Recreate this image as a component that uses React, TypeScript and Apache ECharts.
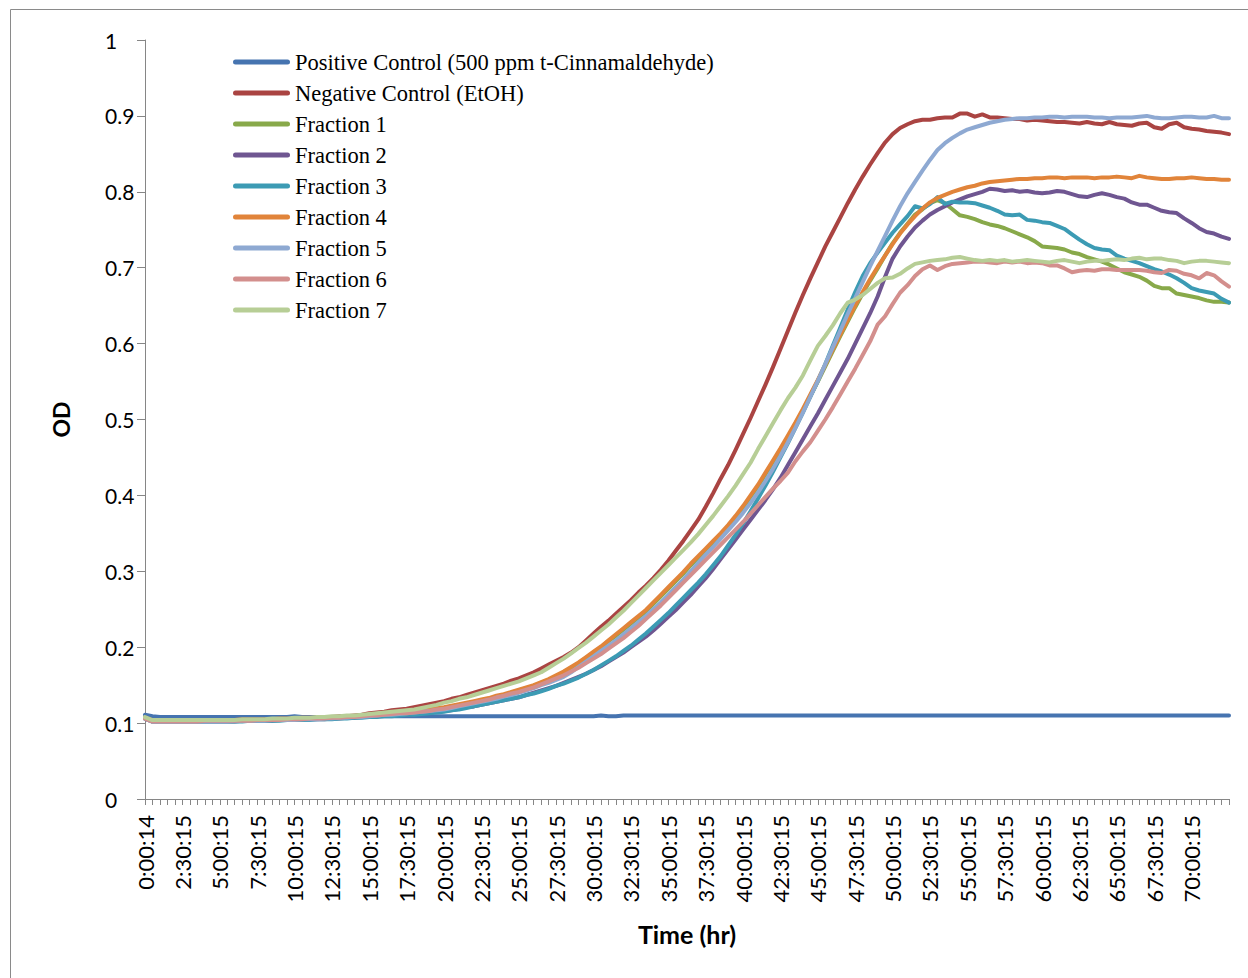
import React, { useEffect, useRef } from "react";
import * as echarts from "echarts";

// Time points every 30 min (first reading at 0:00:14)
const categories: string[] = Array.from({ length: 146 }, (_, i) =>
  i === 0 ? "0:00:14" : `${Math.floor(i / 2)}:${i % 2 ? "30" : "00"}:15`
);

const yTicks = [0, 0.1, 0.2, 0.3, 0.4, 0.5, 0.6, 0.7, 0.8, 0.9, 1];

const positiveControl = [
  0.111, 0.109, 0.108, 0.108, 0.108, 0.108, 0.108, 0.108, 0.108, 0.108,
  0.108, 0.108, 0.108, 0.108, 0.108, 0.108, 0.108, 0.108, 0.108, 0.108,
  0.109, 0.108, 0.108, 0.108, 0.108, 0.108, 0.108, 0.108, 0.109, 0.109,
  0.109, 0.109, 0.109, 0.109, 0.109, 0.109, 0.109, 0.109, 0.109, 0.109,
  0.109, 0.109, 0.109, 0.109, 0.109, 0.109, 0.109, 0.109, 0.109, 0.109,
  0.109, 0.109, 0.109, 0.109, 0.109, 0.109, 0.109, 0.109, 0.109, 0.109,
  0.109, 0.110, 0.109, 0.109, 0.110, 0.110, 0.110, 0.110, 0.110, 0.110,
  0.110, 0.110, 0.110, 0.110, 0.110, 0.110, 0.110, 0.110, 0.110, 0.110,
  0.110, 0.110, 0.110, 0.110, 0.110, 0.110, 0.110, 0.110, 0.110, 0.110,
  0.110, 0.110, 0.110, 0.110, 0.110, 0.110, 0.110, 0.110, 0.110, 0.110,
  0.110, 0.110, 0.110, 0.110, 0.110, 0.110, 0.110, 0.110, 0.110, 0.110,
  0.110, 0.110, 0.110, 0.110, 0.110, 0.110, 0.110, 0.110, 0.110, 0.110,
  0.110, 0.110, 0.110, 0.110, 0.110, 0.110, 0.110, 0.110, 0.110, 0.110,
  0.110, 0.110, 0.110, 0.110, 0.110, 0.110, 0.110, 0.110, 0.110, 0.110,
  0.110, 0.110, 0.110, 0.110, 0.110, 0.110,
];

const negativeControl = [
  0.107, 0.104, 0.104, 0.104, 0.104, 0.104, 0.104, 0.104, 0.104, 0.104,
  0.104, 0.104, 0.104, 0.105, 0.105, 0.105, 0.105, 0.105, 0.106, 0.106,
  0.106, 0.107, 0.107, 0.107, 0.108, 0.108, 0.109, 0.109, 0.110, 0.111,
  0.113, 0.114, 0.115, 0.117, 0.118, 0.119, 0.121, 0.123, 0.125, 0.127,
  0.129, 0.132, 0.134, 0.137, 0.140, 0.143, 0.146, 0.149, 0.152, 0.156,
  0.159, 0.163, 0.167, 0.172, 0.177, 0.182, 0.187, 0.193, 0.200, 0.209,
  0.218, 0.227, 0.235, 0.244, 0.253, 0.262, 0.272, 0.281, 0.291, 0.302,
  0.314, 0.327, 0.340, 0.354, 0.368, 0.385, 0.403, 0.422, 0.440, 0.460,
  0.481, 0.502, 0.524, 0.546, 0.569, 0.593, 0.617, 0.641, 0.664, 0.686,
  0.707, 0.728, 0.747, 0.766, 0.785, 0.803, 0.820, 0.836, 0.851, 0.865,
  0.876, 0.884, 0.889, 0.893, 0.895, 0.895, 0.897, 0.898, 0.898, 0.903,
  0.903, 0.899, 0.902, 0.898, 0.898, 0.897, 0.896, 0.896, 0.894, 0.895,
  0.894, 0.893, 0.892, 0.892, 0.891, 0.890, 0.892, 0.890, 0.889, 0.892,
  0.889, 0.888, 0.887, 0.890, 0.891, 0.885, 0.883, 0.889, 0.891, 0.885,
  0.883, 0.882, 0.880, 0.879, 0.878, 0.876,
];

const fraction1 = [
  0.107, 0.103, 0.103, 0.103, 0.103, 0.103, 0.103, 0.103, 0.103, 0.103,
  0.103, 0.103, 0.103, 0.104, 0.104, 0.104, 0.104, 0.104, 0.105, 0.105,
  0.105, 0.105, 0.106, 0.106, 0.106, 0.107, 0.107, 0.108, 0.108, 0.109,
  0.110, 0.111, 0.112, 0.112, 0.113, 0.114, 0.115, 0.116, 0.117, 0.119,
  0.120, 0.122, 0.124, 0.126, 0.128, 0.130, 0.132, 0.135, 0.137, 0.140,
  0.143, 0.146, 0.149, 0.153, 0.157, 0.162, 0.167, 0.173, 0.179, 0.186,
  0.193, 0.200, 0.208, 0.215, 0.223, 0.231, 0.239, 0.247, 0.257, 0.267,
  0.277, 0.287, 0.297, 0.308, 0.318, 0.328, 0.338, 0.348, 0.359, 0.371,
  0.384, 0.398, 0.412, 0.428, 0.444, 0.460, 0.477, 0.494, 0.512, 0.531,
  0.550, 0.570, 0.590, 0.610, 0.629, 0.648, 0.666, 0.683, 0.699, 0.716,
  0.732, 0.746, 0.758, 0.770, 0.777, 0.785, 0.789, 0.785, 0.777, 0.769,
  0.767, 0.764, 0.760, 0.757, 0.755, 0.752, 0.748, 0.744, 0.740, 0.735,
  0.728, 0.727, 0.726, 0.724, 0.720, 0.718, 0.714, 0.711, 0.708, 0.704,
  0.699, 0.694, 0.691, 0.688, 0.683, 0.676, 0.673, 0.673, 0.666, 0.664,
  0.662, 0.660, 0.657, 0.655, 0.655, 0.654,
];

const fraction2 = [
  0.106, 0.102, 0.102, 0.102, 0.102, 0.102, 0.102, 0.102, 0.102, 0.102,
  0.102, 0.102, 0.102, 0.103, 0.103, 0.103, 0.103, 0.103, 0.104, 0.104,
  0.104, 0.104, 0.105, 0.105, 0.105, 0.106, 0.106, 0.107, 0.107, 0.108,
  0.109, 0.109, 0.110, 0.110, 0.111, 0.111, 0.112, 0.113, 0.114, 0.115,
  0.116, 0.117, 0.119, 0.121, 0.122, 0.124, 0.126, 0.128, 0.130, 0.132,
  0.134, 0.137, 0.140, 0.143, 0.146, 0.149, 0.153, 0.157, 0.161, 0.165,
  0.170, 0.175, 0.181, 0.187, 0.193, 0.200, 0.207, 0.214, 0.222, 0.231,
  0.240, 0.249, 0.259, 0.269, 0.280, 0.291, 0.303, 0.316, 0.329, 0.342,
  0.355, 0.368, 0.381, 0.394, 0.408, 0.423, 0.440, 0.457, 0.474, 0.491,
  0.508, 0.526, 0.544, 0.562, 0.580, 0.600, 0.620, 0.640, 0.662, 0.688,
  0.712, 0.728, 0.741, 0.753, 0.762, 0.770, 0.776, 0.781, 0.786, 0.790,
  0.794, 0.797, 0.800, 0.804, 0.803, 0.801, 0.802, 0.800, 0.801, 0.799,
  0.798, 0.799, 0.801, 0.800, 0.797, 0.794, 0.793, 0.796, 0.798, 0.796,
  0.793, 0.791, 0.786, 0.783, 0.783, 0.779, 0.775, 0.773, 0.772, 0.765,
  0.759, 0.752, 0.747, 0.745, 0.741, 0.738,
];

const fraction3 = [
  0.106, 0.102, 0.102, 0.102, 0.102, 0.102, 0.102, 0.102, 0.102, 0.102,
  0.102, 0.102, 0.102, 0.102, 0.103, 0.103, 0.103, 0.103, 0.103, 0.104,
  0.104, 0.104, 0.104, 0.105, 0.105, 0.105, 0.106, 0.106, 0.107, 0.107,
  0.108, 0.108, 0.109, 0.109, 0.110, 0.111, 0.111, 0.112, 0.113, 0.114,
  0.115, 0.117, 0.118, 0.120, 0.122, 0.124, 0.126, 0.128, 0.130, 0.132,
  0.134, 0.137, 0.139, 0.142, 0.145, 0.149, 0.152, 0.156, 0.160, 0.165,
  0.170, 0.176, 0.182, 0.188, 0.195, 0.202, 0.210, 0.218, 0.227, 0.236,
  0.245, 0.255, 0.265, 0.275, 0.285, 0.296, 0.308, 0.320, 0.334, 0.348,
  0.363, 0.379, 0.396, 0.413, 0.431, 0.450, 0.469, 0.489, 0.509, 0.530,
  0.551, 0.573, 0.597, 0.621, 0.645, 0.668, 0.689, 0.706, 0.720, 0.733,
  0.746, 0.757, 0.768, 0.781, 0.778, 0.784, 0.793, 0.784, 0.787, 0.786,
  0.786, 0.785, 0.782, 0.779, 0.775, 0.770, 0.769, 0.770, 0.763, 0.762,
  0.760, 0.759, 0.755, 0.751, 0.744, 0.737, 0.731, 0.726, 0.724, 0.723,
  0.716, 0.712, 0.709, 0.706, 0.702, 0.698, 0.695, 0.691, 0.686, 0.680,
  0.673, 0.670, 0.668, 0.666, 0.659, 0.654,
];

const fraction4 = [
  0.107, 0.103, 0.103, 0.103, 0.103, 0.103, 0.103, 0.103, 0.103, 0.103,
  0.103, 0.103, 0.104, 0.104, 0.104, 0.104, 0.104, 0.105, 0.105, 0.105,
  0.105, 0.106, 0.106, 0.106, 0.107, 0.107, 0.108, 0.108, 0.109, 0.110,
  0.111, 0.112, 0.113, 0.113, 0.114, 0.115, 0.116, 0.117, 0.118, 0.120,
  0.121, 0.123, 0.125, 0.127, 0.129, 0.131, 0.133, 0.136, 0.138, 0.141,
  0.144, 0.147, 0.150, 0.154, 0.158, 0.163, 0.168, 0.174, 0.180, 0.187,
  0.194, 0.201, 0.209, 0.217, 0.225, 0.233, 0.241, 0.249, 0.259, 0.269,
  0.279, 0.289, 0.299, 0.310, 0.320, 0.330, 0.340, 0.350, 0.361, 0.373,
  0.386, 0.400, 0.414, 0.430, 0.446, 0.462, 0.479, 0.496, 0.514, 0.533,
  0.552, 0.572, 0.592, 0.612, 0.631, 0.650, 0.668, 0.685, 0.701, 0.716,
  0.731, 0.745, 0.757, 0.768, 0.778, 0.786, 0.792, 0.796, 0.800, 0.803,
  0.806, 0.808, 0.811, 0.813, 0.814, 0.815, 0.816, 0.817, 0.817, 0.818,
  0.818, 0.819, 0.819, 0.818, 0.819, 0.819, 0.819, 0.818, 0.819, 0.819,
  0.820, 0.819, 0.818, 0.821, 0.819, 0.818, 0.817, 0.817, 0.818, 0.818,
  0.819, 0.818, 0.817, 0.817, 0.816, 0.816,
];

const fraction5 = [
  0.106, 0.102, 0.102, 0.102, 0.102, 0.102, 0.102, 0.102, 0.102, 0.102,
  0.102, 0.102, 0.103, 0.103, 0.103, 0.103, 0.103, 0.104, 0.104, 0.104,
  0.104, 0.105, 0.105, 0.105, 0.106, 0.106, 0.107, 0.107, 0.108, 0.108,
  0.109, 0.110, 0.111, 0.111, 0.112, 0.113, 0.114, 0.115, 0.116, 0.117,
  0.118, 0.120, 0.122, 0.124, 0.126, 0.128, 0.130, 0.132, 0.135, 0.137,
  0.140, 0.143, 0.146, 0.150, 0.153, 0.157, 0.161, 0.167, 0.174, 0.181,
  0.188, 0.195, 0.202, 0.209, 0.217, 0.225, 0.233, 0.241, 0.250, 0.259,
  0.269, 0.279, 0.289, 0.300, 0.311, 0.322, 0.332, 0.343, 0.354, 0.365,
  0.377, 0.390, 0.404, 0.419, 0.435, 0.452, 0.470, 0.489, 0.509, 0.530,
  0.551, 0.573, 0.595, 0.617, 0.639, 0.660, 0.681, 0.702, 0.722, 0.742,
  0.762, 0.781, 0.798, 0.813, 0.828, 0.842, 0.855, 0.864, 0.871, 0.877,
  0.882, 0.885, 0.888, 0.891, 0.893, 0.895, 0.896, 0.897, 0.897, 0.898,
  0.898, 0.899, 0.899, 0.898, 0.899, 0.899, 0.899, 0.898, 0.898, 0.897,
  0.898, 0.898, 0.898, 0.899, 0.900, 0.898, 0.897, 0.897, 0.898, 0.899,
  0.899, 0.898, 0.898, 0.900, 0.897, 0.897,
];

const fraction6 = [
  0.106, 0.102, 0.102, 0.102, 0.102, 0.102, 0.102, 0.102, 0.103, 0.103,
  0.103, 0.103, 0.103, 0.103, 0.103, 0.104, 0.104, 0.104, 0.104, 0.105,
  0.105, 0.105, 0.106, 0.106, 0.106, 0.107, 0.107, 0.108, 0.108, 0.109,
  0.110, 0.110, 0.111, 0.112, 0.113, 0.113, 0.114, 0.115, 0.116, 0.118,
  0.119, 0.121, 0.123, 0.125, 0.127, 0.129, 0.131, 0.134, 0.136, 0.139,
  0.141, 0.144, 0.147, 0.151, 0.155, 0.159, 0.163, 0.168, 0.173, 0.179,
  0.185, 0.191, 0.198, 0.205, 0.212, 0.220, 0.228, 0.237, 0.246, 0.255,
  0.265, 0.275, 0.285, 0.295, 0.305, 0.315, 0.325, 0.335, 0.345, 0.355,
  0.365, 0.376, 0.387, 0.398, 0.409, 0.419, 0.430, 0.445, 0.458, 0.470,
  0.485, 0.500, 0.516, 0.533, 0.550, 0.567, 0.585, 0.603, 0.625, 0.636,
  0.652, 0.667, 0.677, 0.689, 0.698, 0.703, 0.697, 0.702, 0.705, 0.706,
  0.707, 0.708, 0.708, 0.707, 0.706, 0.708, 0.707, 0.708, 0.706, 0.707,
  0.706, 0.703, 0.703, 0.699, 0.694, 0.696, 0.697, 0.696, 0.698, 0.698,
  0.697, 0.697, 0.697, 0.697, 0.696, 0.694, 0.693, 0.697, 0.696, 0.692,
  0.690, 0.686, 0.693, 0.690, 0.682, 0.675,
];

const fraction7 = [
  0.108, 0.104, 0.104, 0.104, 0.104, 0.104, 0.104, 0.104, 0.104, 0.104,
  0.104, 0.104, 0.104, 0.105, 0.105, 0.105, 0.105, 0.106, 0.106, 0.106,
  0.107, 0.107, 0.107, 0.108, 0.108, 0.109, 0.109, 0.110, 0.110, 0.111,
  0.112, 0.113, 0.114, 0.115, 0.116, 0.117, 0.118, 0.120, 0.122, 0.124,
  0.127, 0.129, 0.132, 0.134, 0.137, 0.140, 0.143, 0.146, 0.149, 0.152,
  0.155, 0.159, 0.163, 0.167, 0.173, 0.179, 0.185, 0.192, 0.199, 0.206,
  0.214, 0.222, 0.230, 0.239, 0.248, 0.258, 0.268, 0.278, 0.288, 0.298,
  0.308, 0.318, 0.328, 0.338, 0.349, 0.361, 0.373, 0.386, 0.399, 0.413,
  0.428, 0.443, 0.461, 0.478, 0.495, 0.512, 0.528, 0.542, 0.558, 0.578,
  0.597, 0.610, 0.624, 0.640, 0.654, 0.658, 0.664, 0.672, 0.680, 0.686,
  0.687, 0.692, 0.699, 0.705, 0.707, 0.709, 0.710, 0.711, 0.713, 0.714,
  0.712, 0.710, 0.709, 0.710, 0.709, 0.710, 0.708, 0.709, 0.710, 0.709,
  0.708, 0.707, 0.709, 0.710, 0.708, 0.706, 0.708, 0.709, 0.709, 0.710,
  0.711, 0.710, 0.712, 0.713, 0.711, 0.712, 0.712, 0.710, 0.709, 0.706,
  0.708, 0.709, 0.709, 0.708, 0.707, 0.706,
];

const seriesNames = [
  "Positive Control (500 ppm t-Cinnamaldehyde)",
  "Negative Control (EtOH)",
  "Fraction 1",
  "Fraction 2",
  "Fraction 3",
  "Fraction 4",
  "Fraction 5",
  "Fraction 6",
  "Fraction 7",
];
const seriesData = [
  positiveControl,
  negativeControl,
  fraction1,
  fraction2,
  fraction3,
  fraction4,
  fraction5,
  fraction6,
  fraction7,
];
const seriesColors = [
  "#4674B0",
  "#AA4442",
  "#88A94A",
  "#6F5691",
  "#3C9BB4",
  "#E1843A",
  "#8EA9D2",
  "#D38F8D",
  "#B7CE96",
];

const sansFont = "Lato";
const serifFont = "Liberation Serif";

export default function App() {
  const ref = useRef<HTMLDivElement>(null);

  useEffect(() => {
    if (!ref.current) return;
    const chart = echarts.init(ref.current, null, { renderer: "svg" });
    const lastIndex = categories.length - 1;
    chart.setOption({
      animation: false,
      backgroundColor: "#ffffff",
      graphic: [
        {
          type: "rect",
          silent: true,
          shape: { x: 10.5, y: 9.5, width: 1300, height: 1000 },
          style: { fill: "none", stroke: "#8a8a8a", lineWidth: 1 },
        },
      ],
      grid: { left: 145, top: 40, right: 19, bottom: 179, containLabel: false },
      legend: {
        orient: "vertical",
        left: 228,
        top: 45,
        icon: "path://M2.5,0L54.5,0A2.5,2.5,0,0,1,54.5,5L2.5,5A2.5,2.5,0,0,1,2.5,0Z",
        itemWidth: 57,
        itemHeight: 5,
        itemGap: 7,
        itemStyle: { borderWidth: 0 },
        textStyle: {
          fontFamily: serifFont,
          fontSize: 22.5,
          lineHeight: 24,
          color: "#000",
        },
        data: seriesNames,
      },
      xAxis: {
        type: "category",
        data: categories,
        boundaryGap: false,
        name: "Time (hr)",
        nameLocation: "middle",
        nameGap: 122,
        nameTextStyle: {
          fontFamily: sansFont,
          fontWeight: "bold",
          fontSize: 25,
          color: "#000",
        },
        axisLine: { lineStyle: { color: "#868686", width: 1 } },
        axisTick: {
          show: true,
          interval: 0,
          length: 6,
          lineStyle: { color: "#868686" },
        },
        axisLabel: {
          interval: (index: number) => index % 5 === 0 && index < lastIndex,
          rotate: 90,
          margin: 16,
          fontFamily: sansFont,
          fontSize: 22,
          color: "#000",
        },
        splitLine: { show: false },
      },
      yAxis: {
        type: "value",
        min: yTicks[0],
        max: yTicks[yTicks.length - 1],
        interval: 0.1,
        name: "OD",
        nameLocation: "middle",
        nameGap: 73,
        nameRotate: 90,
        nameTextStyle: {
          fontFamily: sansFont,
          fontWeight: "bold",
          fontSize: 23,
          color: "#000",
        },
        axisLine: { show: true, lineStyle: { color: "#868686", width: 1 } },
        axisTick: { show: true, length: 8, lineStyle: { color: "#868686" } },
        axisLabel: {
          margin: 40,
          align: "left",
          fontFamily: sansFont,
          fontSize: 21,
          color: "#000",
          formatter: (v: number) => String(Math.round(v * 10) / 10),
        },
        splitLine: { show: false },
      },
      series: seriesNames.map((name, k) => ({
        name,
        type: "line",
        data: seriesData[k],
        symbol: "none",
        smooth: false,
        color: seriesColors[k],
        lineStyle: { width: 4, color: seriesColors[k], cap: "round", join: "round" },
      })),
    });
    return () => chart.dispose();
  }, []);

  return (
    <div
      ref={ref}
      style={{
        position: "absolute",
        left: 0,
        top: 0,
        width: 1248,
        height: 978,
        background: "#fff",
      }}
    />
  );
}
